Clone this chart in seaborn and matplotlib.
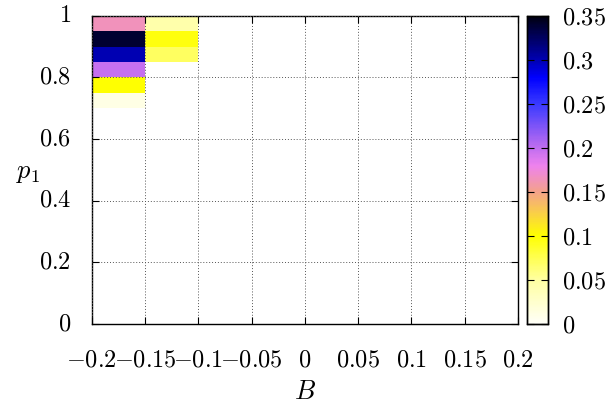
import matplotlib
matplotlib.use('Agg')
import matplotlib.pyplot as plt
from matplotlib.colors import LinearSegmentedColormap
import seaborn as sns
import numpy as np
import pandas as pd

# Bin edges of the histogram
b_edges = [-0.2, -0.15, -0.1, -0.05, 0.0, 0.05, 0.1, 0.15, 0.2]
p_edges = [round(0.05 * i, 2) for i in range(21)]

# Non-empty cells: (B bin start, p1 bin start, value)
col_b = [-0.2, -0.2, -0.2, -0.2, -0.2, -0.2, -0.15, -0.15, -0.15]
col_p = [0.95, 0.9, 0.85, 0.8, 0.75, 0.7, 0.95, 0.9, 0.85]
col_v = [0.165, 0.34, 0.30, 0.198, 0.10, 0.012, 0.045, 0.097, 0.07]

x_ticks = [-0.2, -0.15, -0.1, -0.05, 0, 0.05, 0.1, 0.15, 0.2]
x_labels = ['-0.2', '-0.15', '-0.1', '-0.05', '0', '0.05', '0.1', '0.15', '0.2']
y_ticks = [0, 0.2, 0.4, 0.6, 0.8, 1]
y_labels = ['0', '0.2', '0.4', '0.6', '0.8', '1']
cb_ticks = [0, 0.05, 0.1, 0.15, 0.2, 0.25, 0.3, 0.35]
cb_labels = ['0', '0.05', '0.1', '0.15', '0.2', '0.25', '0.3', '0.35']

plt.rcParams['mathtext.fontset'] = 'cm'
plt.rcParams['font.family'] = 'serif'
plt.rcParams['font.serif'] = ['cmr10', 'DejaVu Serif']
plt.rcParams['axes.formatter.use_mathtext'] = True

# grid of rows (p1 high -> low) by columns (B low -> high)
n_rows = len(p_edges) - 1
n_cols = len(b_edges) - 1
grid = np.full((n_rows, n_cols), np.nan)
for b, p, v in zip(col_b, col_p, col_v):
    j = int(round((b - b_edges[0]) / 0.05))
    i = n_rows - 1 - int(round(p / 0.05))
    grid[i, j] = v
df = pd.DataFrame(grid, index=p_edges[:-1][::-1], columns=b_edges[:-1])

vmax = 0.35
cmap = LinearSegmentedColormap.from_list('gp', [
    (0.0, '#fffff8'),
    (0.05 / vmax, '#ffffa0'),
    (0.1 / vmax, '#ffff00'),
    (0.15 / vmax, '#f4a28a'),
    (0.18 / vmax, '#ee82ee'),
    (0.2 / vmax, '#c06ef0'),
    (0.25 / vmax, '#3a3aff'),
    (0.28 / vmax, '#0000ff'),
    (0.3 / vmax, '#0000b4'),
    (1.0, '#000010'),
])

fig = plt.figure(figsize=(6.12, 4.17), dpi=100)
ax = fig.add_axes([0.150, 0.223, 0.696, 0.739])
cax = fig.add_axes([0.861, 0.223, 0.034, 0.739])

sns.heatmap(df, ax=ax, cbar_ax=cax, cmap=cmap, vmin=0, vmax=vmax,
            cbar_kws={'ticks': cb_ticks})

fs = 17.5
# heatmap coordinates: x in cells, y in cells from the top
ax.set_xticks([(t - b_edges[0]) / 0.05 for t in x_ticks])
ax.set_xticklabels(['$' + s + '$' for s in x_labels], fontsize=fs, rotation=0)
ax.set_yticks([(1 - t) / 0.05 for t in y_ticks])
ax.set_yticklabels(['$' + s + '$' for s in y_labels], fontsize=fs, rotation=0)
ax.set_xlim(0, n_cols)
ax.set_ylim(n_rows, 0)
ax.tick_params(direction='in', length=5, width=0.8, top=True, right=True)
ax.tick_params(axis='x', pad=18)
ax.tick_params(axis='y', pad=15)
ax.grid(True, linestyle=(0, (1, 2)), color='#555555', linewidth=0.7)
ax.set_axisbelow(False)
for s in ax.spines.values():
    s.set_visible(True)
    s.set_linewidth(1.0)

ax.set_xlabel('$B$', fontsize=19, va='center')
ax.xaxis.set_label_coords(0.5, -0.22)
ax.set_ylabel('$p_1$', fontsize=19, rotation=0, va='center', ha='center')
ax.yaxis.set_label_coords(-0.15, 0.49)

cax.set_yticks(cb_ticks)
cax.set_yticklabels(['$' + s + '$' for s in cb_labels], fontsize=fs)
cax.tick_params(direction='in', length=5, width=0.8, left=True, right=True, pad=10)
for s in cax.spines.values():
    s.set_visible(True)
    s.set_linewidth(1.0)

fig.savefig('out.png', dpi=100)
